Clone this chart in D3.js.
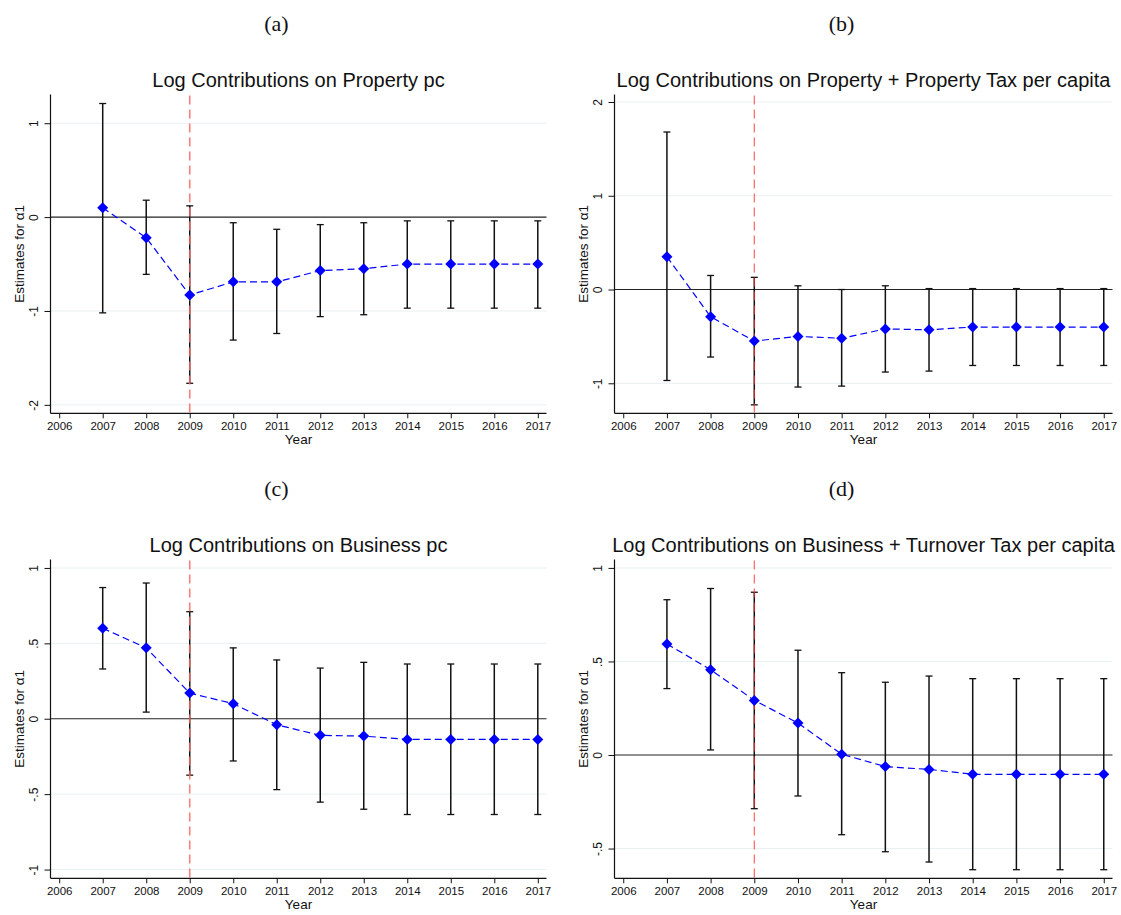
<!DOCTYPE html>
<html>
<head>
<meta charset="utf-8">
<script src="https://cdn.jsdelivr.net/npm/d3@7"></script>
<style>
  body { margin: 0; background: #fff; }
  text { font-family: "Liberation Sans", Arial, sans-serif; }
</style>
</head>
<body>
<div id="chart"></div>
<script>
// data
const years = [2007, 2008, 2009, 2010, 2011, 2012, 2013, 2014, 2015, 2016, 2017];
const xTicks = [2006, 2007, 2008, 2009, 2010, 2011, 2012, 2013, 2014, 2015, 2016, 2017];
const eventYear = 2009;

const panelLetters = ["(a)", "(b)", "(c)", "(d)"];
const titles = [
    "Log Contributions on Property pc",
    "Log Contributions on Property + Property Tax per capita",
    "Log Contributions on Business pc",
    "Log Contributions on Business + Turnover Tax per capita"
];

const estA = [0.10, -0.22, -0.83, -0.69, -0.69, -0.57, -0.55, -0.50, -0.50, -0.50, -0.50];
const lowA = [-1.02, -0.61, -1.77, -1.31, -1.24, -1.06, -1.04, -0.97, -0.97, -0.97, -0.97];
const highA = [1.21, 0.18, 0.12, -0.06, -0.13, -0.08, -0.06, -0.04, -0.04, -0.04, -0.04];

const estB = [0.35, -0.29, -0.55, -0.50, -0.52, -0.42, -0.43, -0.40, -0.40, -0.40, -0.40];
const lowB = [-0.97, -0.72, -1.23, -1.04, -1.03, -0.88, -0.87, -0.81, -0.81, -0.81, -0.81];
const highB = [1.68, 0.15, 0.13, 0.04, 0.00, 0.04, 0.01, 0.01, 0.01, 0.01, 0.01];

const estC = [0.60, 0.47, 0.17, 0.10, -0.04, -0.11, -0.115, -0.137, -0.137, -0.137, -0.137];
const lowC = [0.33, 0.044, -0.374, -0.28, -0.47, -0.553, -0.60, -0.635, -0.635, -0.635, -0.635];
const highC = [0.87, 0.90, 0.71, 0.47, 0.39, 0.336, 0.374, 0.363, 0.363, 0.363, 0.363];

const estD = [0.594, 0.456, 0.292, 0.171, 0.004, -0.062, -0.077, -0.103, -0.103, -0.103, -0.103];
const lowD = [0.355, 0.027, -0.287, -0.219, -0.426, -0.517, -0.572, -0.613, -0.613, -0.613, -0.613];
const highD = [0.83, 0.89, 0.87, 0.56, 0.44, 0.389, 0.422, 0.408, 0.408, 0.408, 0.408];

const yTicksA = [-2, -1, 0, 1];
const yTicksB = [-1, 0, 1, 2];
const yTicksC = [-1, -0.5, 0, 0.5, 1];
const yTicksD = [-0.5, 0, 0.5, 1];

const yDomainA = [-2.09, 1.306];
const yDomainB = [-1.32, 2.08];
const yDomainC = [-1.058, 1.056];
const yDomainD = [-0.659, 1.045];
const xDomain = [2005.8, 2017.2];

const width = 1121;
const height = 915;

// stata style labels: ".5", "-.5"
const fmtTick = v => {
    if (v === 0) return "0";
    let s = String(v);
    return s.replace("0.", ".");
};

const panels = [
    { est: estA, low: lowA, high: highA, ticks: yTicksA, dom: yDomainA, col: 0, row: 0 },
    { est: estB, low: lowB, high: highB, ticks: yTicksB, dom: yDomainB, col: 1, row: 0 },
    { est: estC, low: lowC, high: highC, ticks: yTicksC, dom: yDomainC, col: 0, row: 1 },
    { est: estD, low: lowD, high: highD, ticks: yTicksD, dom: yDomainD, col: 1, row: 1 }
];

const colX = [[50.5, 546.5], [614.5, 1112.5]];
const rowY = [[94.5, 413.3], [559.5, 878.3]];

const svg = d3.select("#chart")
    .append("svg")
    .attr("width", width)
    .attr("height", height)
    .style("background", "#fff");

panels.forEach((p, i) => {
    const [x0, x1] = colX[p.col];
    const [y0, y1] = rowY[p.row];

    const x = d3.scaleLinear().domain(xDomain).range([x0, x1]);
    const y = d3.scaleLinear().domain(p.dom).range([y1, y0]);

    const g = svg.append("g");

    // panel letter
    svg.append("text")
        .attr("x", (x0 + x1) / 2 - 22)
        .attr("y", 31 + p.row * 465)
        .attr("text-anchor", "middle")
        .attr("font-size", "22px")
        .style("font-family", "'Liberation Serif', 'DejaVu Serif', serif")
        .attr("fill", "#111")
        .text(panelLetters[i]);

    // title
    g.append("text")
        .attr("x", (x0 + x1) / 2)
        .attr("y", y0 - 7.5)
        .attr("text-anchor", "middle")
        .attr("font-size", "20px")
        .attr("fill", "#111")
        .text(titles[i]);

    // gridlines
    g.selectAll(".grid")
        .data(p.ticks.filter(t => t !== 0))
        .enter()
        .append("line")
        .attr("x1", x0)
        .attr("x2", x1)
        .attr("y1", d => y(d))
        .attr("y2", d => y(d))
        .attr("stroke", "#e8f0f2")
        .attr("stroke-width", 1);

    // zero line
    g.append("line")
        .attr("x1", x0)
        .attr("x2", x1)
        .attr("y1", y(0))
        .attr("y2", y(0))
        .attr("stroke", "#222")
        .attr("stroke-width", 1.1);

    // y axis
    const yAxis = d3.axisLeft(y)
        .tickValues(p.ticks)
        .tickSize(6)
        .tickFormat(fmtTick);
    const ya = g.append("g")
        .attr("transform", `translate(${x0},0)`)
        .call(yAxis);
    ya.select(".domain")
        .attr("d", `M0,${y0}V${y1}`)
        .attr("stroke", "#111")
        .attr("stroke-width", 1.2);
    ya.selectAll(".tick line").attr("stroke", "#111");
    ya.selectAll(".tick text")
        .attr("x", null)
        .attr("dy", null)
        .attr("transform", "translate(-13,0) rotate(-90)")
        .attr("text-anchor", "middle")
        .attr("font-size", "12px")
        .attr("font-family", "'Liberation Sans', Arial, sans-serif")
        .attr("fill", "#111");

    // x axis
    const xAxis = d3.axisBottom(x)
        .tickValues(xTicks)
        .tickSize(5)
        .tickFormat(d3.format("d"));
    const xa = g.append("g")
        .attr("transform", `translate(0,${y1})`)
        .call(xAxis);
    xa.select(".domain")
        .attr("d", `M${x0},0H${x1}`)
        .attr("stroke", "#111")
        .attr("stroke-width", 1.2);
    xa.selectAll(".tick line").attr("stroke", "#111");
    xa.selectAll(".tick text")
        .attr("y", 17)
        .attr("dy", null)
        .attr("font-size", "11.5px")
        .attr("font-family", "'Liberation Sans', Arial, sans-serif")
        .attr("fill", "#111");

    // axis titles
    g.append("text")
        .attr("x", (x0 + x1) / 2)
        .attr("y", y1 + 31)
        .attr("text-anchor", "middle")
        .attr("font-size", "13.5px")
        .attr("fill", "#111")
        .text("Year");

    g.append("text")
        .attr("transform", `translate(${x0 - 26.5},${(y0 + y1) / 2}) rotate(-90)`)
        .attr("text-anchor", "middle")
        .attr("font-size", "13.5px")
        .attr("fill", "#111")
        .text("Estimates for α1");

    const rows = years.map((yr, k) => ({ yr, est: p.est[k], low: p.low[k], high: p.high[k] }));

    // confidence intervals
    const bars = g.selectAll(".ci")
        .data(rows)
        .enter()
        .append("g");
    bars.append("line")
        .attr("x1", d => x(d.yr))
        .attr("x2", d => x(d.yr))
        .attr("y1", d => y(d.low))
        .attr("y2", d => y(d.high))
        .attr("stroke", "#111")
        .attr("stroke-width", 1.5);
    bars.append("line")
        .attr("x1", d => x(d.yr) - 3.5)
        .attr("x2", d => x(d.yr) + 3.5)
        .attr("y1", d => y(d.low))
        .attr("y2", d => y(d.low))
        .attr("stroke", "#111")
        .attr("stroke-width", 1.3);
    bars.append("line")
        .attr("x1", d => x(d.yr) - 3.5)
        .attr("x2", d => x(d.yr) + 3.5)
        .attr("y1", d => y(d.high))
        .attr("y2", d => y(d.high))
        .attr("stroke", "#111")
        .attr("stroke-width", 1.3);

    // event line
    g.append("line")
        .attr("x1", x(eventYear))
        .attr("x2", x(eventYear))
        .attr("y1", y0 + 1)
        .attr("y2", y1)
        .attr("stroke", p.col === 0 ? "#f76a6a" : "#ff3b3b")
        .attr("stroke-width", p.col === 0 ? 1.6 : 1.1)
        .attr("stroke-dasharray", "9,5")
        .attr("opacity", 0.85);

    // estimates
    const line = d3.line()
        .x(d => x(d.yr))
        .y(d => y(d.est));
    g.append("path")
        .datum(rows)
        .attr("d", line)
        .attr("fill", "none")
        .attr("stroke", "#0000ff")
        .attr("stroke-width", 1.2)
        .attr("stroke-dasharray", "7,4");

    g.selectAll(".pt")
        .data(rows)
        .enter()
        .append("path")
        .attr("d", "M0,-5.5L5.5,0L0,5.5L-5.5,0Z")
        .attr("transform", d => `translate(${x(d.yr)},${y(d.est)})`)
        .attr("fill", "#0000ff");
});
</script>
</body>
</html>
